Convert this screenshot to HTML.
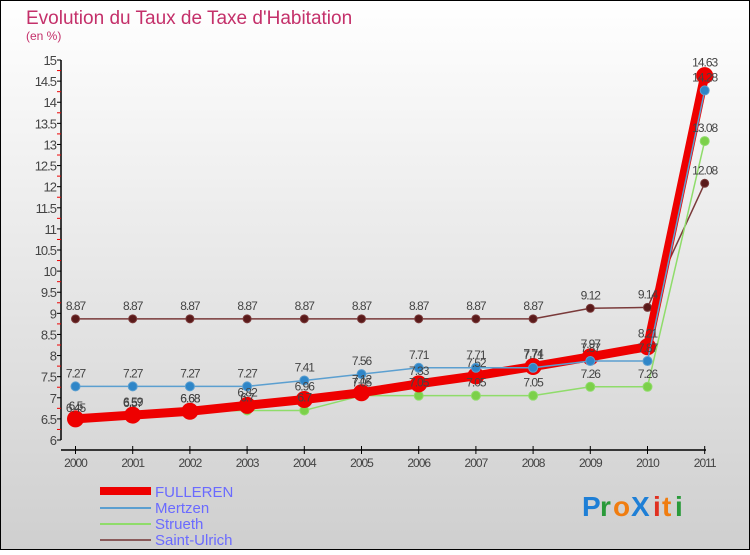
<!DOCTYPE html>
<html><head><meta charset="utf-8"><style>
html,body{margin:0;padding:0;}
body{width:750px;height:550px;overflow:hidden;font-family:"Liberation Sans",sans-serif;}
</style></head><body>
<svg id="c" width="750" height="550" xmlns="http://www.w3.org/2000/svg">
<defs><linearGradient id="bg" x1="0" y1="0" x2="0" y2="1"><stop offset="0" stop-color="#ffffff"/><stop offset="1" stop-color="#cfcfcf"/></linearGradient></defs>
<rect x="0.5" y="0.5" width="749" height="549" fill="url(#bg)" stroke="#000"/>
<text x="26" y="24" font-size="19" fill="#c4306a">Evolution du Taux de Taxe d'Habitation</text>
<text x="26" y="40" font-size="12" fill="#c4306a">(en %)</text>
<g id="axes"></g><g id="series"></g><g id="labels"></g>
<g>
<rect x="100" y="487" width="51" height="8" fill="#e00"/>
<text x="155" y="497" font-size="15" fill="#6a6aff">FULLEREN</text>
<line x1="100" y1="508" x2="151" y2="508" stroke="#5b9fd0" stroke-width="2"/>
<text x="155" y="513" font-size="15" fill="#6a6aff">Mertzen</text>
<line x1="100" y1="524" x2="151" y2="524" stroke="#8fdc6a" stroke-width="2"/>
<text x="155" y="529" font-size="15" fill="#6a6aff">Strueth</text>
<line x1="100" y1="540" x2="151" y2="540" stroke="#8a5a5a" stroke-width="2"/>
<text x="155" y="545" font-size="15" fill="#6a6aff">Saint-Ulrich</text>
</g>
<g font-size="28" font-weight="bold">
<text x="582" y="516" fill="#1e7fd6">P</text><text x="600" y="516" fill="#2a9a3a">r</text><text x="613" y="516" fill="#f07d10">o</text>
<text x="631" y="516" fill="#1e7fd6">X</text><text x="653" y="516" fill="#e03020">i</text><text x="662" y="516" fill="#f07d10">t</text><text x="675" y="516" fill="#2a9a3a">i</text>
</g>
</svg>
<script>
const years=["2000","2001","2002","2003","2004","2005","2006","2007","2008","2009","2010","2011"];
const fulleren=[6.5,6.59,6.68,6.82,6.96,7.12,7.33,7.52,7.74,7.97,8.21,14.63];
const mertzen=[7.27,7.27,7.27,7.27,7.41,7.56,7.71,7.71,7.71,7.87,7.87,14.28];
const strueth=[6.45,6.57,6.68,6.7,6.7,7.05,7.05,7.05,7.05,7.26,7.26,13.08];
const saintUlrich=[8.87,8.87,8.87,8.87,8.87,8.87,8.87,8.87,8.87,9.12,9.14,12.08];
const yTicks=[6,6.5,7,7.5,8,8.5,9,9.5,10,10.5,11,11.5,12,12.5,13,13.5,14,14.5,15];
const NS="http://www.w3.org/2000/svg";
const x=i=>75.5+i*57.2;
const y=v=>440-(v-6)*42.22;
function mk(t,a,p){const e=document.createElementNS(NS,t);for(const k in a)e.setAttribute(k,a[k]);p.appendChild(e);return e;}
const ax=document.getElementById('axes');
let e=mk('line',{x1:61,y1:y(15),x2:61,y2:y(6),stroke:'#000','stroke-width':1.5},ax);


e=mk('line',{x1:61,y1:450,x2:706,y2:450,stroke:'#000','stroke-width':1.5},ax);


yTicks.forEach(v=>{
  mk('line',{x1:57,y1:y(v),x2:61,y2:y(v),stroke:'#000'},ax);
  mk('line',{x1:57,y1:y(v+0.25),x2:61,y2:y(v+0.25),stroke:'#e00'},ax).setAttribute('visibility',v<15?'visible':'hidden');
  const t=mk('text',{x:56,y:y(v)+5,'font-size':13,fill:'#444','text-anchor':'end','letter-spacing':'-1'},ax);
  t.textContent=String(v);
  
  
});
years.forEach((yr,i)=>{
  mk('line',{x1:x(i),y1:446,x2:x(i),y2:454,stroke:'#000'},ax);
  const t=mk('text',{x:x(i),y:467,'font-size':12,fill:'#444','text-anchor':'middle','letter-spacing':'-1'},ax);
  t.textContent=yr;
  
  
});
const sg=document.getElementById('series'),lg=document.getElementById('labels');
function draw(vals,name,color,w,r,dot){
  const g=mk('g',{},sg);
  
  
  const pl=mk('polyline',{points:vals.map((v,i)=>x(i)+','+y(v)).join(' '),fill:'none',stroke:color,'stroke-width':w,'stroke-linejoin':'round'},g);
  
  
  vals.forEach((v,i)=>{
    const c=mk('circle',{cx:x(i),cy:y(v),r:r,fill:dot,stroke:color,'stroke-width':1},g);
    
    
    const t=mk('text',{x:x(i),y:y(v)-9,'font-size':12,fill:'#444','text-anchor':'middle','letter-spacing':'-1'},lg);
    t.textContent=String(v);
    
    
  });
}
draw(saintUlrich,'saint-ulrich','#7a3a3a',1.5,4,'#5a1a1a');
draw(strueth,'strueth','#8fdc6a',1.5,4.5,'#7cd04a');
draw(fulleren,'fulleren','#ee0000',9,8,'#ee0000');
draw(mertzen,'mertzen','#5b9fd0',1.5,4.5,'#2f86c8');
</script>
</body></html>
